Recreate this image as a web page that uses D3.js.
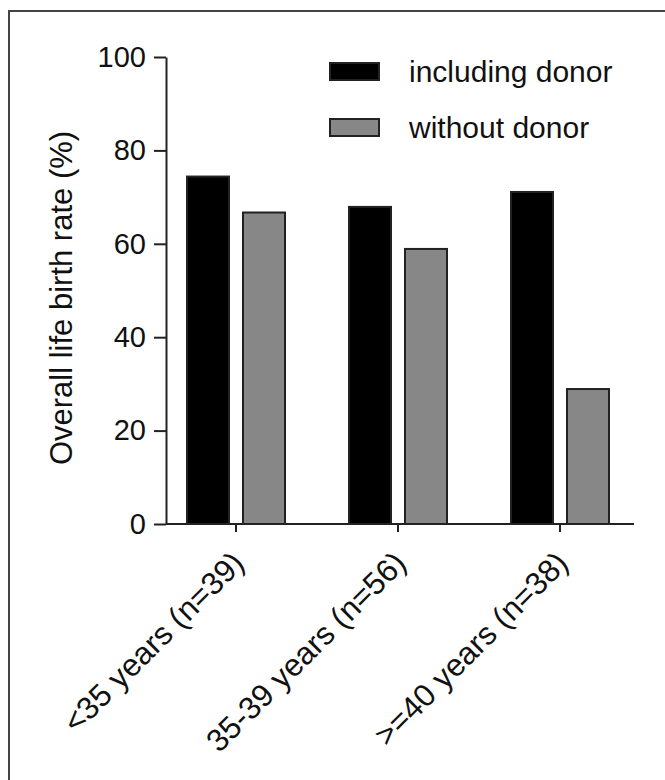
<!DOCTYPE html>
<html>
<head>
<meta charset="utf-8">
<script src="https://cdn.jsdelivr.net/npm/d3@7"></script>
<style>
  body { margin: 0; background: #fff; }
  svg { display: block; font-family: "Liberation Sans", Arial, sans-serif; }
</style>
</head>
<body>
<svg id="chart" width="665" height="780"></svg>
<script>
const categories = ["<35 years (n=39)", "35-39 years (n=56)", ">=40 years (n=38)"];
const series = ["including donor", "without donor"];
const includingDonor = [74.4, 67.9, 71.1];
const withoutDonor = [66.7, 58.9, 28.9];
const yTicks = [0, 20, 40, 60, 80, 100];
const yTitle = "Overall life birth rate (%)";
const colors = ["#000000", "#878787"];

const values = [includingDonor, withoutDonor];
const svg = d3.select("#chart");
const lineColor = "#222";

// frame
svg.append("rect")
  .attr("x", 9).attr("y", 11).attr("width", 720).attr("height", 820)
  .attr("fill", "none").attr("stroke", "#444").attr("stroke-width", 2);

const y = d3.scaleLinear().domain([0, 100]).range([524, 57]);
const x0 = d3.scaleBand().domain(categories).range([155, 641]).padding(0);
const mid = x0.bandwidth() / 2;
const x1 = d3.scaleBand().domain(series).range([mid - 56, mid + 56])
  .paddingInner(0.25).paddingOuter(0.125);

const yAxisX = 166;

// bars
const groups = svg.append("g").selectAll("g")
  .data(categories).join("g")
  .attr("transform", d => `translate(${x0(d)},0)`);

groups.selectAll("rect")
  .data((d, i) => series.map((s, j) => ({ s, v: values[j][i], j })))
  .join("rect")
  .attr("x", d => x1(d.s))
  .attr("y", d => y(d.v))
  .attr("width", x1.bandwidth())
  .attr("height", d => y(0) - y(d.v))
  .attr("fill", d => colors[d.j])
  .attr("stroke", lineColor)
  .attr("stroke-width", 2);

// y axis
const yAxis = svg.append("g")
  .attr("transform", `translate(${yAxisX},0)`)
  .call(d3.axisLeft(y).tickValues(yTicks).tickSize(12).tickSizeOuter(0).tickPadding(8));
yAxis.selectAll("path, line").attr("stroke", lineColor).attr("stroke-width", 2);
yAxis.selectAll("text").attr("font-size", 29).attr("fill", "#111")
  .attr("font-family", "Liberation Sans, Arial, sans-serif");

// x axis
const xAxis = svg.append("g")
  .attr("transform", `translate(0,${y(0)})`)
  .call(d3.axisBottom(x0).tickSize(8).tickSizeOuter(0));
xAxis.select(".domain").remove();
xAxis.append("line")
  .attr("x1", yAxisX).attr("x2", x0.range()[1] - 7)
  .attr("y1", 0).attr("y2", 0)
  .attr("stroke", lineColor).attr("stroke-width", 2);
xAxis.selectAll(".tick line").attr("stroke", lineColor).attr("stroke-width", 2);
xAxis.selectAll(".tick text")
  .attr("x", 0).attr("y", 0).attr("dy", null)
  .attr("transform", "translate(10,41) rotate(-45)")
  .attr("text-anchor", "end")
  .attr("font-size", 31.5).attr("fill", "#111")
  .attr("font-family", "Liberation Sans, Arial, sans-serif");

// y title
svg.append("text")
  .attr("transform", "translate(72,298) rotate(-90)")
  .attr("text-anchor", "middle")
  .attr("font-size", 31).attr("fill", "#111")
  .text(yTitle);

// legend
const legend = svg.append("g").selectAll("g")
  .data(series).join("g")
  .attr("transform", (d, i) => `translate(330,${63 + i * 56})`);
legend.append("rect")
  .attr("width", 49).attr("height", 17)
  .attr("fill", (d, i) => colors[i])
  .attr("stroke", lineColor).attr("stroke-width", 2);
legend.append("text")
  .attr("x", 79).attr("y", 19)
  .attr("font-size", 30).attr("fill", "#111")
  .text(d => d);
</script>
</body>
</html>
